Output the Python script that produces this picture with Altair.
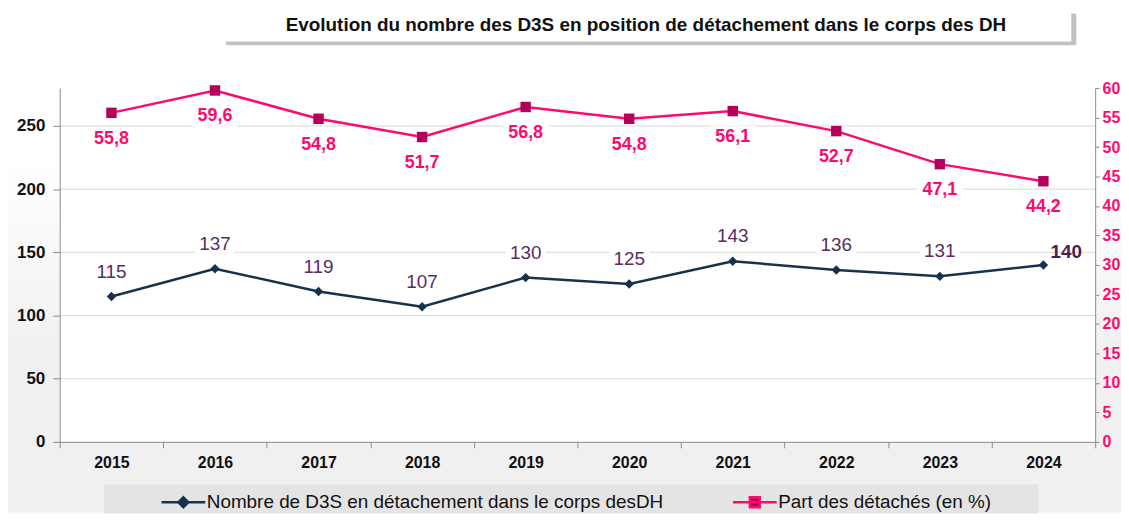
import altair as alt
import pandas as pd

years = ["2015", "2016", "2017", "2018", "2019", "2020", "2021", "2022", "2023", "2024"]
nombre = [115, 137, 119, 107, 130, 125, 143, 136, 131, 140]
part = [55.8, 59.6, 54.8, 51.7, 56.8, 54.8, 56.1, 52.7, 47.1, 44.2]
left_ticks = [0, 50, 100, 150, 200, 250]
right_ticks = [0, 5, 10, 15, 20, 25, 30, 35, 40, 45, 50, 55, 60]
series_names = ["Nombre de D3S en détachement dans le corps desDH", "Part des détachés (en %)"]
title_text = "Evolution du nombre des D3S en position de détachement dans le corps des DH"

NAVY = "#17324d"
PINK = "#ff0a6c"
PINK_DARK = "#b3005a"
NAVY_LBL = "#5b2c5f"
FONT = "Liberation Sans"

W, H = 1042, 356

df = pd.DataFrame({"year": years, "nombre": nombre, "part": part, "last": [False] * 9 + [True]})
df["lbl"] = [f"{v:.1f}".replace(".", ",") for v in part]
grid_df = pd.DataFrame({"nombre": left_ticks[1:]})

x_enc = alt.X("year:N", title=None,
              scale=alt.Scale(type="band", paddingInner=0, paddingOuter=0),
              axis=alt.Axis(labelAngle=0, labelFont=FONT, labelFontSize=16, labelFontWeight="bold",
                            labelColor="#111", domainColor="#8c8c8c", tickColor="#8c8c8c",
                            tickSize=6, labelPadding=7, tickBand="extent", grid=False, zindex=1))

one = alt.Data(values=[{"a": 1}])

bg = alt.Chart(one).mark_rect(
    fill=alt.LinearGradient(gradient="linear", x1=0, x2=0, y1=0, y2=1,
                            stops=[alt.GradientStop(color="#ffffff", offset=0),
                                   alt.GradientStop(color="#ffffff", offset=0.3),
                                   alt.GradientStop(color="#f0f0f0", offset=0.7),
                                   alt.GradientStop(color="#f0f0f0", offset=1)])
).encode(x=alt.value(-52), x2=alt.value(1068), y=alt.value(-79), y2=alt.value(427))

plotbg = alt.Chart(one).mark_rect(fill="white").encode(
    x=alt.value(0), x2=alt.value(W), y=alt.value(0), y2=alt.value(H))

shadow = alt.Chart(one).mark_rect(fill="#9a9a9a", opacity=0.6, cornerRadius=2).encode(
    x=alt.value(167), x2=alt.value(1023), y=alt.value(-75), y2=alt.value(-43))
titlebox = alt.Chart(one).mark_rect(fill="white").encode(
    x=alt.value(162), x2=alt.value(1018), y=alt.value(-79), y2=alt.value(-47))
title = alt.Chart(one).mark_text(font=FONT, fontSize=19, fontWeight="bold", color="#111",
                                 align="center", baseline="middle").encode(
    x=alt.value(590), y=alt.value(-63), text=alt.value(title_text))

legbox = alt.Chart(one).mark_rect(fill="#e4e4e4").encode(
    x=alt.value(45), x2=alt.value(985), y=alt.value(399), y2=alt.value(428))

y_left = alt.Y("nombre:Q", title=None,
               scale=alt.Scale(domain=[0, 280], nice=False),
               axis=alt.Axis(orient="left", values=left_ticks, labelFont=FONT,
                             labelFontSize=17, labelFontWeight="bold", labelColor="#111",
                             domainColor="#8c8c8c", tickColor="#8c8c8c", tickSize=7,
                             labelPadding=8, grid=False, zindex=1))
y_right = alt.Y("part:Q", title=None,
                scale=alt.Scale(domain=[0, 60], nice=False),
                axis=alt.Axis(orient="right", values=right_ticks, labelFont=FONT,
                              labelFontSize=16, labelFontWeight="bold", labelColor=PINK,
                              domainColor="#8c8c8c", tickColor="#8c8c8c", tickSize=4,
                              labelPadding=3, grid=False, zindex=1))

base = alt.Chart(df)
rect_shape = "M-1,-0.5H1V0.5H-1Z"

grid = alt.Chart(grid_df).mark_rule(color="#d9d9d9", strokeWidth=1).encode(y=y_left)
navy_line = base.mark_line(color=NAVY, strokeWidth=2.5).encode(x=x_enc, y=y_left)
navy_pts = base.mark_point(shape="diamond", filled=True, color=NAVY, size=90, opacity=1).encode(x=x_enc, y=y_left)
navy_bg = base.transform_filter("!datum.last").mark_point(
    shape=rect_shape, filled=True, color="white", opacity=1, size=1600, yOffset=-25
).encode(x=x_enc, y=y_left)
navy_lbl = base.transform_filter("!datum.last").mark_text(
    font=FONT, fontSize=19, color=NAVY_LBL, dy=-25, baseline="middle").encode(
    x=x_enc, y=y_left, text="nombre:Q")
navy_last = base.transform_filter("datum.last").mark_text(
    font=FONT, fontSize=19, fontWeight="bold", color="#4a1f4d", dx=23, dy=-13, baseline="middle").encode(
    x=x_enc, y=y_left, text="nombre:Q")
navy = alt.layer(grid, navy_line, navy_bg, navy_pts, navy_lbl, navy_last)

pink_line = base.mark_line(color=PINK, strokeWidth=2.5).encode(x=x_enc, y=y_right)
pink_pts = base.mark_point(shape="square", filled=True, color=PINK_DARK, size=110, opacity=1).encode(x=x_enc, y=y_right)
pink_bg = base.mark_point(shape=rect_shape, filled=True, color="white", opacity=1, size=2100, yOffset=26).encode(
    x=x_enc, y=y_right)
pink_lbl = base.mark_text(font=FONT, fontSize=18, fontWeight="bold", color=PINK, dy=26, baseline="middle").encode(
    x=x_enc, y=y_right, text="lbl:N")
pink = alt.layer(pink_line, pink_bg, pink_pts, pink_lbl)

leg = alt.Legend(title=None, orient="none", legendX=112, legendY=404,
                 direction="horizontal", columns=2, padding=0,
                 symbolSize=484, symbolStrokeWidth=2.5, symbolOpacity=1,
                 labelFont=FONT, labelFontSize=19,
                 labelColor="#111", labelOffset=11, columnPadding=64, labelLimit=600)
leg_df = alt.Data(values=[{"s": series_names[0]}, {"s": series_names[1]}])
legend_layer = alt.Chart(leg_df).mark_point(opacity=0, filled=True).encode(
    x=alt.value(0), y=alt.value(0),
    fill=alt.Fill("s:N", scale=alt.Scale(domain=series_names, range=[NAVY, PINK_DARK]), legend=leg),
    stroke=alt.Stroke("s:N", scale=alt.Scale(domain=series_names, range=[NAVY, PINK]), legend=leg),
    shape=alt.Shape("s:N", scale=alt.Scale(domain=series_names,
                                          range=["M-2,0H2M0,-0.45L0.45,0L0,0.45L-0.45,0Z",
                                                 "M-2,0H2M-0.45,-0.45H0.45V0.45H-0.45Z"]),
                    legend=leg),
)

chart = alt.layer(bg, plotbg, shadow, titlebox, title, legbox, navy, pink, legend_layer).resolve_scale(
    y="independent").properties(width=W, height=H, padding=0).configure_view(stroke=None)

chart.save("out.html", embed_options={"renderer": "svg", "actions": False})
